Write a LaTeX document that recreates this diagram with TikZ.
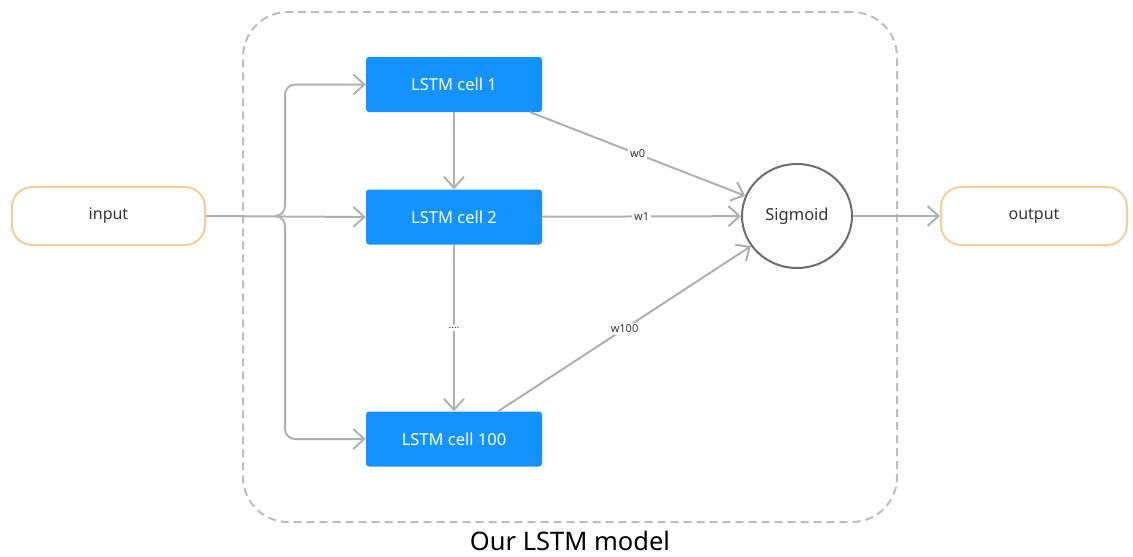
\documentclass[tikz,border=0pt]{standalone}
\usepackage{fontspec}
\setmainfont{Noto Sans}
\usetikzlibrary{arrows.meta,shapes.geometric}
\definecolor{cellblue}{HTML}{1492FF}
\definecolor{linkgray}{HTML}{B0B0B0}
\definecolor{framegray}{HTML}{BDBDBD}
\definecolor{ioorange}{HTML}{F8CD98}
\definecolor{ringgray}{HTML}{6E6E6E}
\definecolor{textgray}{HTML}{363636}
\begin{document}
\begin{tikzpicture}[x=1pt,y=-1pt,
  link/.style={draw=linkgray, line width=2pt,
    -{Straight Barb[length=11pt,width=20pt,line width=2pt]}},
  cell/.style={fill=cellblue, rounded corners=3pt, minimum width=176pt,
    minimum height=55pt, inner sep=0pt, text=white,
    font=\fontsize{16.5}{18}\selectfont},
  iobox/.style={draw=ioorange, line width=2pt, rounded corners=20pt,
    minimum height=58pt, inner sep=0pt, text=textgray,
    font=\fontsize{16}{18}\selectfont},
  weight/.style={fill=white, inner sep=2pt, text=textgray,
    font=\fontsize{11}{12}\selectfont},
  container/.style={draw=framegray, line width=2pt,
    dash pattern=on 8pt off 5pt, rounded corners=45pt, inner sep=0pt}
]
\useasboundingbox[fill=white] (0,0) rectangle (1133,557);

% model frame and caption
\node[container, minimum width=654pt, minimum height=510pt] (model) at (570,267) {};
\node[text=black, font=\fontsize{25.5}{28}\selectfont] (caption) at (570,541) {Our LSTM model};

% input and output terminals
\node[iobox, minimum width=193pt] (in) at (108.5,216) {input};
\node[iobox, minimum width=186pt] (out) at (1034,216) {output};

% LSTM cells
\node[cell] (c1) at (454,84.5) {LSTM cell 1};
\node[cell] (c2) at (454,217) {LSTM cell 2};
\node[cell] (c100) at (454,439) {LSTM cell 100};

% sigmoid unit
\node[ellipse, draw=ringgray, line width=2pt, minimum width=110pt,
  minimum height=104pt, inner sep=0pt, text=textgray,
  font=\fontsize{16.5}{18}\selectfont] (sig) at (797,216) {Sigmoid};

% fan-out of the input to every cell
\coordinate (split) at (285,216);
\draw[link] (in.east) -- (c2.west);
\draw[link, rounded corners=10pt] ([xshift=-10pt]split) -| (c1.west -| split) -- (c1.west);
\draw[link, rounded corners=10pt] ([xshift=-10pt]split) -| (c100.west -| split) -- (c100.west);

% chain between cells
\draw[link] (c1) -- (c2);
\draw[link] (c2) -- node[weight, font=\fontsize{10}{11}\selectfont] {....} (c100);

% weighted links into the sigmoid
\draw[link] ([xshift=-12pt]c1.south east) -- node[weight] {w0} (sig);
\draw[link] (c2) -- node[weight] {w1} (sig);
\draw[link] ([xshift=-44pt]c100.north east) -- node[weight] {w100} (sig);

% result
\draw[link] (sig) -- (out);
\end{tikzpicture}
\end{document}
